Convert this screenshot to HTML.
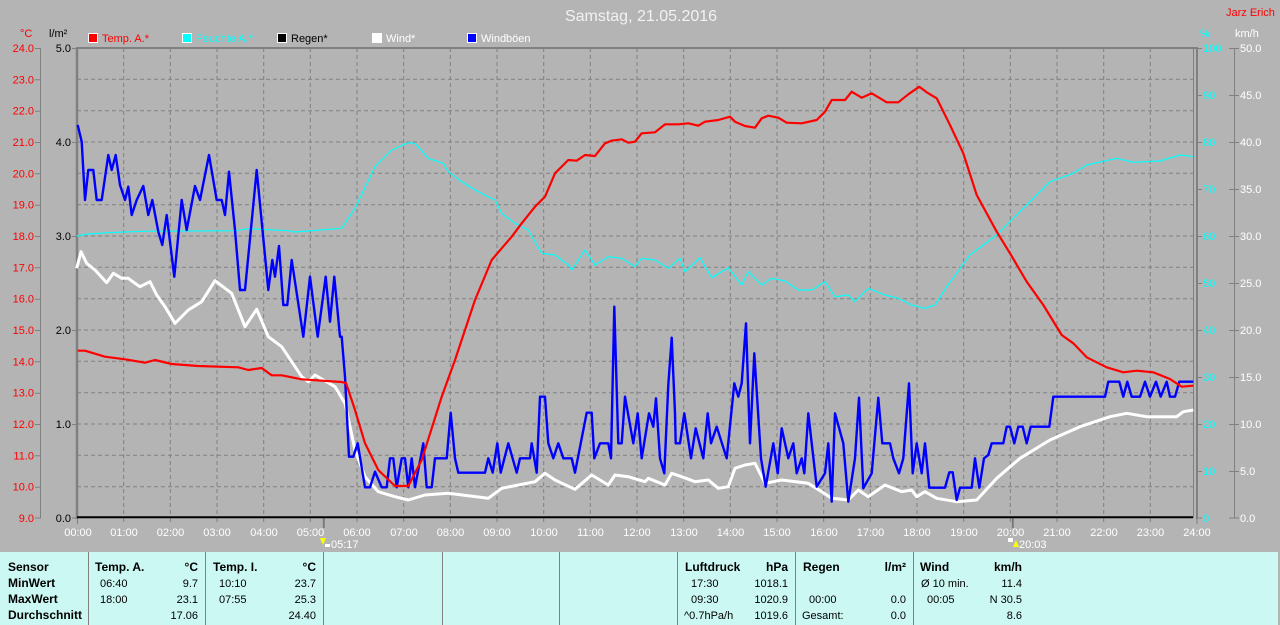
<!DOCTYPE html>
<html><head><meta charset="utf-8"><style>
html,body{margin:0;padding:0;background:#b4b4b4;}
svg{display:block;font-family:"Liberation Sans",sans-serif;}
</style></head><body>
<svg width="1280" height="625" viewBox="0 0 1280 625" xmlns="http://www.w3.org/2000/svg">
<rect x="0" y="0" width="1280" height="625" fill="#b4b4b4"/>
<text x="641" y="21" font-size="16" fill="#f2f2f2" text-anchor="middle">Samstag, 21.05.2016</text>
<text x="1226" y="16" font-size="11" fill="#ff0000">Jarz Erich</text>
<text x="20" y="37" font-size="11" fill="#ff0000">°C</text>
<text x="49" y="37" font-size="11" fill="#000">l/m²</text>
<text x="1200" y="37" font-size="11" fill="#00ffff">%</text>
<text x="1235" y="37" font-size="11" fill="#ffffff">km/h</text>
<g font-size="11">
<rect x="88.5" y="33.5" width="9" height="9" fill="#ff0000" stroke="#fff"/><text x="102" y="42" fill="#ff0000">Temp. A.*</text>
<rect x="182.5" y="33.5" width="9" height="9" fill="#00ffff" stroke="#fff"/><text x="196" y="42" fill="#00ffff">Feuchte A.*</text>
<rect x="277.5" y="33.5" width="9" height="9" fill="#000" stroke="#fff"/><text x="291" y="42" fill="#000">Regen*</text>
<rect x="372.5" y="33.5" width="9" height="9" fill="#fff" stroke="#fff"/><text x="386" y="42" fill="#fff">Wind*</text>
<rect x="467.5" y="33.5" width="9" height="9" fill="#0000ff" stroke="#fff"/><text x="481" y="42" fill="#fff">Windböen</text>
</g>
<!-- grid -->
<g stroke="#808080" stroke-width="1" stroke-dasharray="4,3" fill="none">
<path d="M123.7,48V517 M170.3,48V517 M217,48V517 M263.7,48V517 M310.3,48V517 M357,48V517 M403.7,48V517 M450.3,48V517 M497,48V517 M543.7,48V517 M590.3,48V517 M637,48V517 M683.7,48V517 M730.3,48V517 M777,48V517 M823.7,48V517 M870.3,48V517 M917,48V517 M963.7,48V517 M1010.3,48V517 M1057,48V517 M1103.7,48V517 M1150.3,48V517"/>
<path d="M77,79.3H1193 M77,110.7H1193 M77,142H1193 M77,173.3H1193 M77,204.7H1193 M77,236H1193 M77,267.3H1193 M77,298.7H1193 M77,330H1193 M77,361.3H1193 M77,392.7H1193 M77,424H1193 M77,455.3H1193 M77,486.7H1193"/>
</g>
<!-- borders -->
<g fill="none" stroke="#808080">
<line x1="76" y1="48" x2="1198" y2="48" stroke-width="2"/>
<line x1="77" y1="47" x2="77" y2="519" stroke-width="2.5"/>
<line x1="1193.5" y1="48" x2="1193.5" y2="518" stroke-width="1"/>
<line x1="1197" y1="47" x2="1197" y2="519" stroke-width="2"/>
<line x1="40.5" y1="48" x2="40.5" y2="518" stroke-width="1"/>
<line x1="1234.5" y1="48" x2="1234.5" y2="518" stroke-width="1"/>
<path d="M35,48.5H41 M35,79.8H41 M35,111.2H41 M35,142.5H41 M35,173.8H41 M35,205.2H41 M35,236.5H41 M35,267.8H41 M35,299.2H41 M35,330.5H41 M35,361.8H41 M35,393.2H41 M35,424.5H41 M35,455.8H41 M35,487.2H41 M35,518H41"/>
<path d="M72,48.5H77 M72,142.5H77 M72,236.5H77 M72,330.5H77 M72,424.5H77 M72,518H77"/>
<path d="M1197,48.5H1202 M1197,95.5H1202 M1197,142.5H1202 M1197,189.5H1202 M1197,236.5H1202 M1197,283.5H1202 M1197,330.5H1202 M1197,377.5H1202 M1197,424.5H1202 M1197,471.5H1202 M1197,518H1202"/>
<path d="M1229,48.5H1239 M1229,95.5H1239 M1229,142.5H1239 M1229,189.5H1239 M1229,236.5H1239 M1229,283.5H1239 M1229,330.5H1239 M1229,377.5H1239 M1229,424.5H1239 M1229,471.5H1239 M1229,518H1239"/>
<path d="M77.5,518V524 M123.7,518V522 M170.3,518V522 M217,518V522 M263.7,518V522 M310.3,518V522 M357,518V522 M403.7,518V522 M450.3,518V522 M497,518V522 M543.7,518V522 M590.3,518V522 M637,518V522 M683.7,518V522 M730.3,518V522 M777,518V522 M823.7,518V522 M870.3,518V522 M917,518V522 M963.7,518V522 M1010.3,518V522 M1057,518V522 M1103.7,518V522 M1150.3,518V522 M1197,518V524"/>
</g>
<line x1="323.8" y1="518" x2="323.8" y2="528" stroke="#7a7a7a" stroke-width="2"/>
<line x1="1012.8" y1="518" x2="1012.8" y2="528" stroke="#7a7a7a" stroke-width="2"/>
<line x1="77" y1="517.3" x2="1193" y2="517.3" stroke="#000" stroke-width="2"/>
<!-- axis labels -->
<g font-size="11" fill="#ff0000" text-anchor="end">
<text x="34" y="52">24.0</text><text x="34" y="83.3">23.0</text><text x="34" y="114.7">22.0</text><text x="34" y="146">21.0</text><text x="34" y="177.3">20.0</text><text x="34" y="208.7">19.0</text><text x="34" y="240">18.0</text><text x="34" y="271.3">17.0</text><text x="34" y="302.7">16.0</text><text x="34" y="334">15.0</text><text x="34" y="365.3">14.0</text><text x="34" y="396.7">13.0</text><text x="34" y="428">12.0</text><text x="34" y="459.3">11.0</text><text x="34" y="490.7">10.0</text><text x="34" y="522">9.0</text>
</g>
<g font-size="11" fill="#000" text-anchor="end">
<text x="71" y="52">5.0</text><text x="71" y="146">4.0</text><text x="71" y="240">3.0</text><text x="71" y="334">2.0</text><text x="71" y="428">1.0</text><text x="71" y="522">0.0</text>
</g>
<g font-size="11" fill="#00ffff">
<text x="1203" y="52">100</text><text x="1203" y="99">90</text><text x="1203" y="146">80</text><text x="1203" y="193">70</text><text x="1203" y="240">60</text><text x="1203" y="287">50</text><text x="1203" y="334">40</text><text x="1203" y="381">30</text><text x="1203" y="428">20</text><text x="1203" y="475">10</text><text x="1203" y="522">0</text>
</g>
<g font-size="11" fill="#fff">
<text x="1240" y="52">50.0</text><text x="1240" y="99">45.0</text><text x="1240" y="146">40.0</text><text x="1240" y="193">35.0</text><text x="1240" y="240">30.0</text><text x="1240" y="287">25.0</text><text x="1240" y="334">20.0</text><text x="1240" y="381">15.0</text><text x="1240" y="428">10.0</text><text x="1240" y="475">5.0</text><text x="1240" y="522">0.0</text>
</g>
<g font-size="11" fill="#fff" text-anchor="middle">
<text x="78" y="536">00:00</text><text x="124" y="536">01:00</text><text x="170.5" y="536">02:00</text><text x="217" y="536">03:00</text><text x="264" y="536">04:00</text><text x="310.5" y="536">05:00</text><text x="357" y="536">06:00</text><text x="404" y="536">07:00</text><text x="450.5" y="536">08:00</text><text x="497" y="536">09:00</text><text x="544" y="536">10:00</text><text x="590.5" y="536">11:00</text><text x="637" y="536">12:00</text><text x="684" y="536">13:00</text><text x="730.5" y="536">14:00</text><text x="777" y="536">15:00</text><text x="824" y="536">16:00</text><text x="870.5" y="536">17:00</text><text x="917" y="536">18:00</text><text x="964" y="536">19:00</text><text x="1010.5" y="536">20:00</text><text x="1057" y="536">21:00</text><text x="1104" y="536">22:00</text><text x="1150.5" y="536">23:00</text><text x="1197" y="536">24:00</text>
</g>
<!-- sunrise / sunset -->
<polygon points="320,538 326,538 323,545" fill="#ffff00"/>
<rect x="325" y="544" width="5" height="3" fill="#fff"/>
<text x="331" y="548" font-size="11" fill="#fff">05:17</text>
<rect x="1008" y="538" width="5" height="4" fill="#fff"/>
<polygon points="1013,547 1019,547 1016,540" fill="#ffff00"/>
<text x="1019" y="548" font-size="11" fill="#fff">20:03</text>
<!-- series -->
<polyline fill="none" stroke="#00ffff" stroke-width="1.2" stroke-linejoin="round" points="76.7,236 88.3,234 108.3,232.7 141.7,231.3 235,230.7 248.3,228.7 288.3,230.7 295,232 341.7,228.3 351.7,213.3 355,208.3 375,166.7 391.7,150 408.3,142.7 415,143.3 428.3,158.3 443.3,163.3 448.3,171.7 461.7,181.7 478.3,191.7 495,200 501.7,213.3 515,223.3 528.3,230 541.7,253.3 555,255 568.3,265 571.7,270 585,250 595,265 608.3,256.7 621.7,258.3 635,266.7 641.7,258.3 655,260 668.3,268.3 680,258.3 685,271.7 700,257.7 711.7,277.7 728.3,267.7 741.7,285 748.3,271.7 761.7,285 771.7,278.3 785,281 798.3,290 811.7,290 825,281.7 835,296.7 848.3,295 855,301.7 868.3,288.3 885,295 898.3,298.3 911.7,305 925,308.3 935,305 946.7,286.7 970,255 996.7,235 1020,211.7 1050,181.7 1073.3,173.3 1086.7,165 1116.7,158.3 1133.3,162.3 1160,161 1180,155 1193.3,156.7"/>
<polyline fill="none" stroke="#ffffff" stroke-width="3" stroke-linejoin="round" points="76.7,268.3 81,251.7 86.7,263.3 95,270 106.7,282.7 113.3,273.3 121.7,278.3 128.3,278.3 135,283.3 140,286.7 150,281.7 156.7,295 165,306.7 175,323.3 188.3,310 201.7,301.7 215,280.7 231.7,293.3 245,326.7 256.7,309.3 268.3,336.7 281.7,346.7 301.7,376.7 308.3,381.7 315,375 335,386.7 345,403.3 355,450 365,476.7 378.3,491.7 395,496.7 408.3,500 425,495 448.3,493.3 488.3,498.3 501.7,488.3 535,481.7 545,473.3 555,480 575,489.3 591.7,475 608.3,485 615,475 628.3,476.7 645,481.7 648.3,478.3 665,485 671.7,473.3 681.7,476.7 695,481.7 708.3,480 718.3,488.3 728.3,486.7 735,468.3 745,465 755,463.3 765,483.3 781.7,480 808.3,483.3 821.7,491.7 831.7,498.3 848.3,500 858.3,490 868.3,496.7 885,485 901.7,491.7 911.7,490 916.7,496.7 925,491.7 936.7,498.3 956.7,501.7 976.7,500 996.7,478.3 1020,458.3 1050,440 1080,426.7 1110,416.7 1126.7,413.3 1146.7,416.7 1176.7,416.7 1183.3,411.7 1193.3,410"/>
<polyline fill="none" stroke="#0000ff" stroke-width="2.4" stroke-linejoin="round" points="77.7,125 81.7,141.7 85,200 88.3,170 93.3,170 96.7,200 101.7,200 108.3,155 111.7,170 115.7,155 120,185 125,200 128.3,186.7 131.7,215 136.7,200 143.3,186 148.3,215 152.3,200 158.3,231.7 162.3,245 166.7,215 174.3,276.7 181.7,200 186.7,230 195,186 200,200 209,155 216.7,200 221.7,200 225,215 229,171.7 235,230 240,290 245,290 256.7,170 268.3,290 272.3,260 275,276.7 279,246 283.3,305 287.3,305 291.7,260 303.3,336.7 310,276.7 317.7,336.7 325.7,276.7 330,321.7 334.3,276.7 340,336.7 341.7,336.7 345,376.7 349,456.7 353.3,456.7 357.7,443.3 365,487.3 370,487.3 375,471.7 381.7,487.3 386.7,487.3 390,458.3 393.3,458.3 396.7,487.3 401.7,458.3 405,458.3 408.3,487.3 411.7,458.3 415,487.3 423.3,443.3 426.7,487.3 431.7,487.3 435,458.3 446.7,458.3 450.7,412.7 455,458.3 458.3,472.7 485,472.7 488.3,458.3 492.7,472.7 497.3,443.3 500.7,472.7 508.3,443.3 516.7,472.7 520,458.3 530,458.3 531.7,443.3 536.7,472.7 540,396.7 545,396.7 548.3,443.3 553.3,458.3 558.3,443.3 563.3,458.3 571.7,458.3 575,472.7 586.7,412.7 591.7,412.7 594.3,458.3 600,443.3 608.3,443.3 611,458.3 614.3,306.7 618.3,443.3 621.7,443.3 625,396.7 633.3,443.3 637.7,413.3 641.7,458.3 649,413.3 653.3,426.7 656,398.3 660,458.3 664.3,473.3 668.3,385 671.7,337.7 675,413.3 675.7,443.3 680,443.3 684.3,413.3 691,458.3 695.7,428.3 703.3,458.3 707.7,413.3 711,443.3 716.7,426.7 726.7,458.3 734.3,383.3 738.3,396.7 741.7,383.3 746,323.3 750,443.3 754.3,353.3 761,458.3 765.7,486.7 773.3,443.3 777.7,473.3 781.7,428.3 788.3,458.3 793.3,443.3 796.7,473.3 801.7,458.3 804.3,473.3 808.3,413.3 811.7,443.3 816.7,486.7 825,473.3 828.3,443.3 831.7,501.7 835,413.3 843.3,443.3 848.3,501.7 855,458.3 859,397.7 863.3,488.3 871.7,473.3 878.3,397.7 882.3,443.3 890,443.3 893.3,458.3 899,473.3 903.3,458.3 909,383.3 912.7,473.3 916.7,443.3 921.7,473.3 925,443.3 929.3,487.7 945,487.7 949.3,472.3 952.7,472.3 956.7,500 960,487.7 971.7,487.7 975,458.3 979.3,487.7 984,458.3 988.3,455 991.7,443.3 1003.3,443.3 1006.7,426.7 1010,426.7 1014.3,443.3 1018.3,426.7 1022.7,426.7 1026.7,443.3 1030.7,426.7 1049.3,426.7 1053.3,396.7 1105,396.7 1108.3,381.7 1119.3,381.7 1123.3,396.7 1127.3,381.7 1131.7,396.7 1140,396.7 1145,381.7 1150,396.7 1156,381.7 1160.7,396.7 1166.7,381.7 1170,396.7 1175,396.7 1179.3,381.7 1193.3,381.7"/>
<polyline fill="none" stroke="#ff0000" stroke-width="2.2" stroke-linejoin="round" points="77.7,350.7 85,350.7 105,356.7 125,359.3 145,362.7 155,360 171.7,364 198.3,366 238.3,367.3 248.3,370 261.7,368 271.7,375.3 281.7,375.3 301.7,379.3 341.7,382 346,383 355,410 365,443.3 378.3,470 395,486 408.3,486 421.7,460 441.7,396.7 455,360 475,300 491.7,260 501.7,248.3 511.7,236.7 521.7,223.3 535,206.7 545,196.7 555,173.3 568.3,160 576.7,160.7 585,155 595,156 605,143.3 611.7,140.7 621.7,139.3 628.3,142.7 635,141.7 641.7,133.3 655,132.3 665,124.3 678.3,124.3 688.3,123.3 698.3,125.7 705,121.7 718.3,120 730,116.7 735,121.7 745,126 755,127.7 761.7,118.3 768.3,115.7 778.3,117.7 786.7,122.7 801.7,123.3 816.7,120 825,111.7 831.7,100 845,100 851.7,91.7 861.7,97.7 871.7,93.3 886.7,102.3 898.3,102.3 908.3,94.3 919.3,86.7 926.7,92.3 936.7,98.3 950,125 963.3,153.3 976.7,195 996.7,231.7 1010,253.3 1026.7,281.7 1043.3,305 1061.7,335 1073.3,343.3 1086.7,357.3 1106.7,367.3 1123.3,372.3 1136.7,370.7 1153.3,372.3 1170,379 1181.7,386.7 1193.3,385.7"/>
<!-- table -->
<rect x="0" y="552" width="1278" height="73" fill="#ccf8f4"/>
<g stroke="#808080" stroke-width="1">
<path d="M88.5,552V625 M205.5,552V625 M323.5,552V625 M442.5,552V625 M559.5,552V625 M677.5,552V625 M795.5,552V625 M913.5,552V625"/>
</g>
<g font-size="12" font-weight="bold" fill="#000">
<text x="8" y="571">Sensor</text><text x="8" y="587">MinWert</text><text x="8" y="603">MaxWert</text><text x="8" y="619">Durchschnitt</text>
<text x="95" y="571">Temp. A.</text><text x="198" y="571" text-anchor="end">°C</text>
<text x="213" y="571">Temp. I.</text><text x="316" y="571" text-anchor="end">°C</text>
<text x="685" y="571">Luftdruck</text><text x="788" y="571" text-anchor="end">hPa</text>
<text x="803" y="571">Regen</text><text x="906" y="571" text-anchor="end">l/m²</text>
<text x="920" y="571">Wind</text><text x="1022" y="571" text-anchor="end">km/h</text>
</g>
<g font-size="11" fill="#000">
<text x="100" y="587">06:40</text><text x="198" y="587" text-anchor="end">9.7</text>
<text x="100" y="603">18:00</text><text x="198" y="603" text-anchor="end">23.1</text>
<text x="198" y="619" text-anchor="end">17.06</text>
<text x="219" y="587">10:10</text><text x="316" y="587" text-anchor="end">23.7</text>
<text x="219" y="603">07:55</text><text x="316" y="603" text-anchor="end">25.3</text>
<text x="316" y="619" text-anchor="end">24.40</text>
<text x="691" y="587">17:30</text><text x="788" y="587" text-anchor="end">1018.1</text>
<text x="691" y="603">09:30</text><text x="788" y="603" text-anchor="end">1020.9</text>
<text x="684" y="619">^0.7hPa/h</text><text x="788" y="619" text-anchor="end">1019.6</text>
<text x="809" y="603">00:00</text><text x="906" y="603" text-anchor="end">0.0</text>
<text x="802" y="619">Gesamt:</text><text x="906" y="619" text-anchor="end">0.0</text>
<text x="921" y="587">Ø 10 min.</text><text x="1022" y="587" text-anchor="end">11.4</text>
<text x="927" y="603">00:05</text><text x="1022" y="603" text-anchor="end">N 30.5</text>
<text x="1022" y="619" text-anchor="end">8.6</text>
</g>
</svg>
</body></html>
